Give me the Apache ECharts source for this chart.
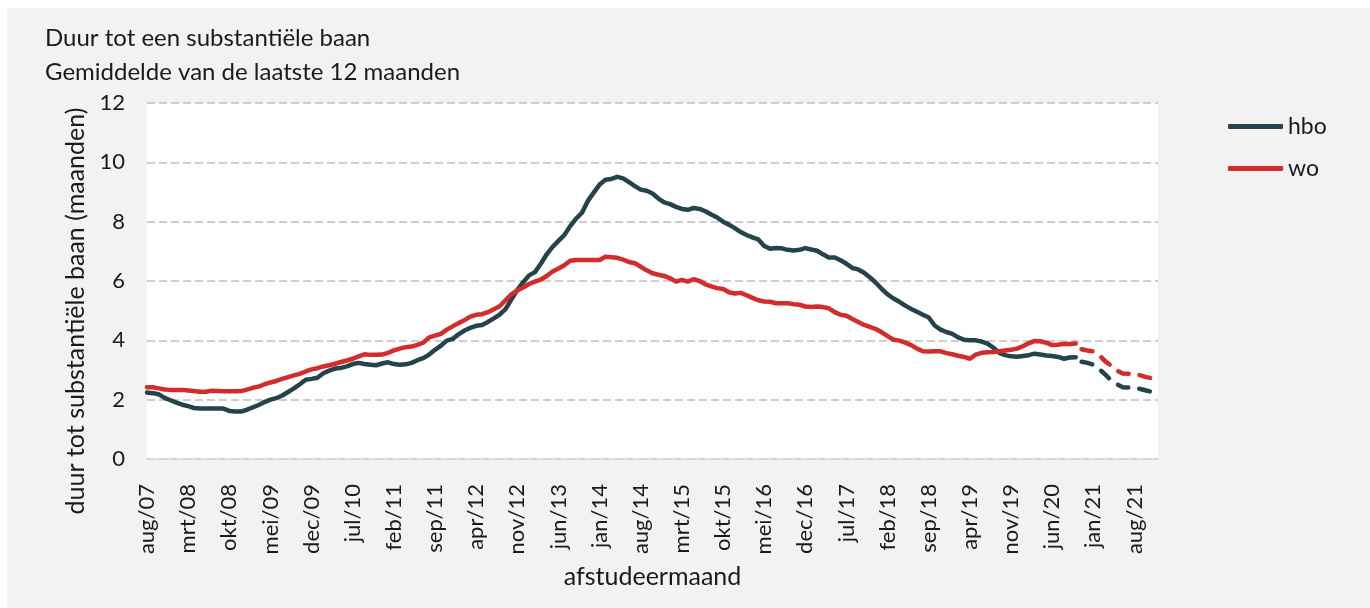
<!DOCTYPE html>
<html>
<head>
<meta charset="utf-8">
<title>Duur tot een substantiële baan</title>
<script src="https://cdn.jsdelivr.net/npm/echarts@6/dist/echarts.min.js"></script>
<style>
  html, body { margin: 0; padding: 0; background: #fff; }
  #chart { width: 1370px; height: 608px; }
</style>
</head>
<body>
<div id="chart"></div>
<script>
// maanden aug/07 t/m dec/21
const monthNames = ['jan', 'feb', 'mrt', 'apr', 'mei', 'jun', 'jul', 'aug', 'sep', 'okt', 'nov', 'dec']
const startYear = 2007
const startMonth = 7 // aug
const monthCount = 173
const forecastStart = 159 // eerste maand van de gestippelde lijn

// gerealiseerd (aug/07 - okt/20)
const hboActual = [
  2.24, 2.22, 2.18, 2.06, 1.98, 1.9, 1.83, 1.78, 1.72, 1.7,
  1.7, 1.7, 1.7, 1.7, 1.62, 1.6, 1.6, 1.66, 1.74, 1.82,
  1.92, 2.0, 2.05, 2.14, 2.26, 2.38, 2.52, 2.67, 2.7, 2.74,
  2.89, 2.98, 3.05, 3.07, 3.12, 3.2, 3.24, 3.2, 3.18, 3.16,
  3.22, 3.26, 3.2, 3.18, 3.19, 3.24, 3.33, 3.4, 3.52, 3.68,
  3.82, 3.99, 4.05, 4.2, 4.33, 4.42, 4.49, 4.52, 4.62, 4.74,
  4.87, 5.05, 5.38, 5.7, 5.96, 6.19, 6.3, 6.58, 6.9, 7.15,
  7.35, 7.55, 7.85, 8.1, 8.3, 8.7, 8.98, 9.25, 9.41, 9.44,
  9.51, 9.46, 9.33, 9.2, 9.08, 9.04, 8.95, 8.78, 8.65, 8.59,
  8.5, 8.43, 8.4, 8.46, 8.43, 8.35, 8.24, 8.14, 8.0, 7.9,
  7.78, 7.65, 7.55, 7.47, 7.4, 7.18, 7.09, 7.11, 7.1, 7.05,
  7.03, 7.05, 7.11, 7.06, 7.02, 6.9, 6.79, 6.79, 6.7, 6.58,
  6.44, 6.39, 6.28, 6.12, 5.94, 5.73, 5.55, 5.41, 5.3, 5.17,
  5.06, 4.96, 4.86, 4.77, 4.5, 4.36, 4.28, 4.22, 4.1, 4.02,
  4.0, 4.0, 3.96, 3.89, 3.75, 3.58, 3.5, 3.46, 3.45, 3.47,
  3.5, 3.55, 3.52, 3.49, 3.47, 3.44, 3.38, 3.42, 3.43
]
const woActual = [
  2.42, 2.42, 2.38, 2.34, 2.33, 2.33, 2.33, 2.31, 2.29, 2.27,
  2.27, 2.3, 2.29, 2.28, 2.28, 2.28, 2.29, 2.34, 2.4, 2.44,
  2.52, 2.58, 2.63, 2.7, 2.76, 2.82, 2.87, 2.95, 3.02, 3.06,
  3.12, 3.16, 3.21, 3.27, 3.32, 3.38, 3.46, 3.53, 3.51, 3.51,
  3.52, 3.58, 3.66, 3.72, 3.77, 3.79, 3.85, 3.92, 4.1, 4.16,
  4.22, 4.36, 4.47, 4.58, 4.68, 4.8, 4.86, 4.88, 4.95, 5.05,
  5.15, 5.35, 5.55, 5.68, 5.78, 5.9, 5.98, 6.05, 6.17, 6.32,
  6.42, 6.53, 6.68, 6.71, 6.71, 6.71, 6.71, 6.71, 6.82, 6.8,
  6.78, 6.72, 6.64, 6.6, 6.48, 6.36, 6.26, 6.21, 6.17, 6.09,
  5.98, 6.04, 5.98, 6.06, 6.0, 5.89, 5.82, 5.76, 5.73, 5.62,
  5.58, 5.6, 5.52, 5.43, 5.35, 5.31, 5.3, 5.25, 5.25, 5.25,
  5.22, 5.2, 5.14, 5.12, 5.14, 5.12, 5.08, 4.95, 4.86, 4.83,
  4.72, 4.62, 4.52, 4.45, 4.38, 4.27, 4.14, 4.02, 3.99, 3.92,
  3.84, 3.72, 3.63, 3.62, 3.63, 3.63, 3.57, 3.53, 3.48, 3.44,
  3.38, 3.52, 3.58, 3.6, 3.61, 3.63, 3.66, 3.68, 3.72, 3.8,
  3.9, 3.98, 3.97, 3.92, 3.84, 3.85, 3.88, 3.88, 3.89
]
// verwachting (dec/20 - dec/21)
const hboForecast = [3.28, 3.24, 3.18, 3.03, 2.85, 2.66, 2.52, 2.42, 2.41, 2.41, 2.36, 2.31, 2.26, 2.22]
const woForecast = [3.7, 3.66, 3.63, 3.5, 3.3, 3.15, 2.98, 2.88, 2.87, 2.87, 2.82, 2.76, 2.72, 2.7]

const yTicks = [0, 2, 4, 6, 8, 10, 12]

let months = []
for (let i = 0; i < monthCount; i++) {
  let m = (startMonth + i) % 12
  let y = startYear + Math.floor((startMonth + i) / 12)
  months.push(`${monthNames[m]}/${String(y % 100).padStart(2, '0')}`)
}

const HBO_COLOR = '#24434b'
const WO_COLOR = '#d42b2b'
const FONT = 'Lato, "Noto Sans", sans-serif'
const TEXT_COLOR = '#1a1a1a'

let lineSeries = (name, color, data, dashed) => ({
  name,
  type: 'line',
  data,
  showSymbol: false,
  symbol: 'none',
  animation: false,
  z: dashed ? 2 : 3,
  lineStyle: {
    color,
    width: 4.5,
    cap: 'round',
    join: 'round',
    type: dashed ? [11, 11] : 'solid'
  },
  itemStyle: { color }
})

let toPairs = arr => arr.map((v, k) => [months[forecastStart + k], v])

let chart = echarts.init(document.getElementById('chart'))
chart.setOption({
  backgroundColor: '#fff',
  textStyle: { fontFamily: FONT, color: TEXT_COLOR },
  graphic: [{
    type: 'rect',
    left: 7,
    top: 8,
    shape: { width: 1363, height: 600 },
    style: { fill: '#f2f2f2' },
    z: -10
  }],
  title: {
    text: 'Duur tot een substantiële baan\nGemiddelde van de laatste 12 maanden',
    left: 40,
    top: 16,
    textStyle: {
      fontFamily: FONT,
      fontWeight: 'normal',
      fontSize: 24,
      lineHeight: 34,
      color: TEXT_COLOR
    }
  },
  legend: {
    orient: 'vertical',
    left: 1223,
    top: 110,
    itemWidth: 55,
    itemHeight: 5,
    itemGap: 19,
    data: [
      { name: 'hbo', icon: 'roundRect' },
      { name: 'wo', icon: 'roundRect' }
    ],
    textStyle: { fontFamily: FONT, fontSize: 23, lineHeight: 22, color: TEXT_COLOR }
  },
  grid: {
    left: 147,
    right: 212,
    top: 103,
    bottom: 149,
    show: true,
    backgroundColor: '#fff',
    borderWidth: 0
  },
  xAxis: {
    type: 'category',
    data: months,
    boundaryGap: false,
    name: 'afstudeermaand',
    nameLocation: 'middle',
    nameGap: 105,
    nameTextStyle: { fontFamily: FONT, fontSize: 25, color: TEXT_COLOR },
    axisLine: { lineStyle: { color: '#d9d9d9', width: 1.5 } },
    axisTick: { show: false },
    axisLabel: {
      interval: 6,
      rotate: 90,
      margin: 25,
      fontFamily: FONT,
      fontSize: 22,
      color: TEXT_COLOR
    },
    splitLine: { show: false }
  },
  yAxis: {
    type: 'value',
    min: yTicks[0],
    max: yTicks[yTicks.length - 1],
    interval: 2,
    name: 'duur tot substantiële baan (maanden)',
    nameLocation: 'middle',
    nameGap: 55,
    nameTextStyle: {
      fontFamily: FONT,
      fontSize: 25,
      color: TEXT_COLOR,
      padding: [0, 60, 0, 0]
    },
    axisLine: { show: false },
    axisTick: { show: false },
    axisLabel: {
      margin: 22,
      fontFamily: FONT,
      fontSize: 22,
      color: TEXT_COLOR
    },
    splitLine: {
      lineStyle: { color: '#bfbfbf', width: 1.5, type: [8, 4] }
    }
  },
  series: [
    lineSeries('hbo', HBO_COLOR, hboActual, false),
    lineSeries('wo', WO_COLOR, woActual, false),
    lineSeries('hbo', HBO_COLOR, toPairs(hboForecast), true),
    lineSeries('wo', WO_COLOR, toPairs(woForecast), true)
  ]
})
</script>
</body>
</html>
